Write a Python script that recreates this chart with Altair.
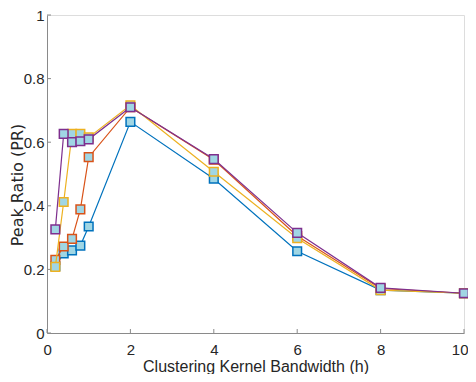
import altair as alt
import pandas as pd

# Data
x_vals = [0.2, 0.4, 0.6, 0.8, 1, 2, 4, 6, 8, 10]
blue = [0.210, 0.250, 0.260, 0.275, 0.335, 0.664, 0.485, 0.257, 0.135, 0.125]
orange = [0.230, 0.272, 0.296, 0.389, 0.553, 0.710, 0.545, 0.305, 0.140, 0.125]
yellow = [0.208, 0.412, 0.626, 0.626, 0.615, 0.716, 0.507, 0.298, 0.135, 0.125]
purple = [0.326, 0.626, 0.600, 0.603, 0.609, 0.710, 0.547, 0.315, 0.142, 0.125]

series_values = [blue, orange, yellow, purple]
series_colors = ["#0072BD", "#D95319", "#EDB120", "#7E2F8E"]
marker_face = "#a0d6e4"

x_ticks = [0, 2, 4, 6, 8, 10]
y_ticks = [0, 0.2, 0.4, 0.6, 0.8, 1]

W, H = 417, 318
AXIS_COL = "#8a8a8a"
LABEL_COL = "#262626"
FONT = "Liberation Sans"

xs = alt.Scale(domain=[0, 10], nice=False, zero=False)
ys = alt.Scale(domain=[0, 1], nice=False, zero=False)

x_axis = alt.Axis(values=x_ticks, ticks=False, grid=False, domainColor=AXIS_COL,
                  labelPadding=9, labelFontSize=15, labelColor=LABEL_COL, labelFont=FONT,
                  labelFlush=True, labelFlushOffset=4,
                  title="Clustering Kernel Bandwidth (h)", titleFontSize=16,
                  titleFont=FONT, titleColor=LABEL_COL, titleFontWeight="normal",
                  titleY=25)
y_axis = alt.Axis(values=y_ticks, ticks=False, grid=False, domainColor=AXIS_COL,
                  labelPadding=3, labelFontSize=15, labelColor=LABEL_COL, labelFont=FONT,
                  format="~g",
                  title="Peak Ratio (PR)", titleFontSize=16, titleFont="DejaVu Sans",
                  titleColor=LABEL_COL, titleFontWeight="normal",
                  titleX=-21.5, titleY=169.5)

X = alt.X("x:Q", scale=xs, axis=x_axis)
Y = alt.Y("y:Q", scale=ys, axis=y_axis)

layers = []

# inward tick marks
xt = pd.DataFrame({"x": x_ticks})
layers.append(alt.Chart(xt).mark_rule(color=AXIS_COL, strokeWidth=1).encode(
    x=X, y=alt.value(H), y2=alt.value(H - 4)))
yt = pd.DataFrame({"y": y_ticks})
layers.append(alt.Chart(yt).mark_rule(color=AXIS_COL, strokeWidth=1).encode(
    y=Y, x=alt.value(0), x2=alt.value(4)))

for vals, col in zip(series_values, series_colors):
    df = pd.DataFrame({"x": x_vals, "y": vals})
    base = alt.Chart(df).encode(x=X, y=Y)
    layers.append(base.mark_line(color=col, strokeWidth=1.2))
    layers.append(base.mark_point(shape="square", size=75, filled=True, fill=marker_face,
                                  stroke=col, strokeWidth=1.5, opacity=1))

chart = alt.layer(*layers).properties(
    width=W, height=H,
    autosize=alt.AutoSizeParams(type="none"),
    padding={"left": 39, "top": 7, "right": 4, "bottom": 41},
).configure_view(stroke=None).configure(font=FONT)

chart.save("out.html", embed_options={"renderer": "svg", "actions": False})
